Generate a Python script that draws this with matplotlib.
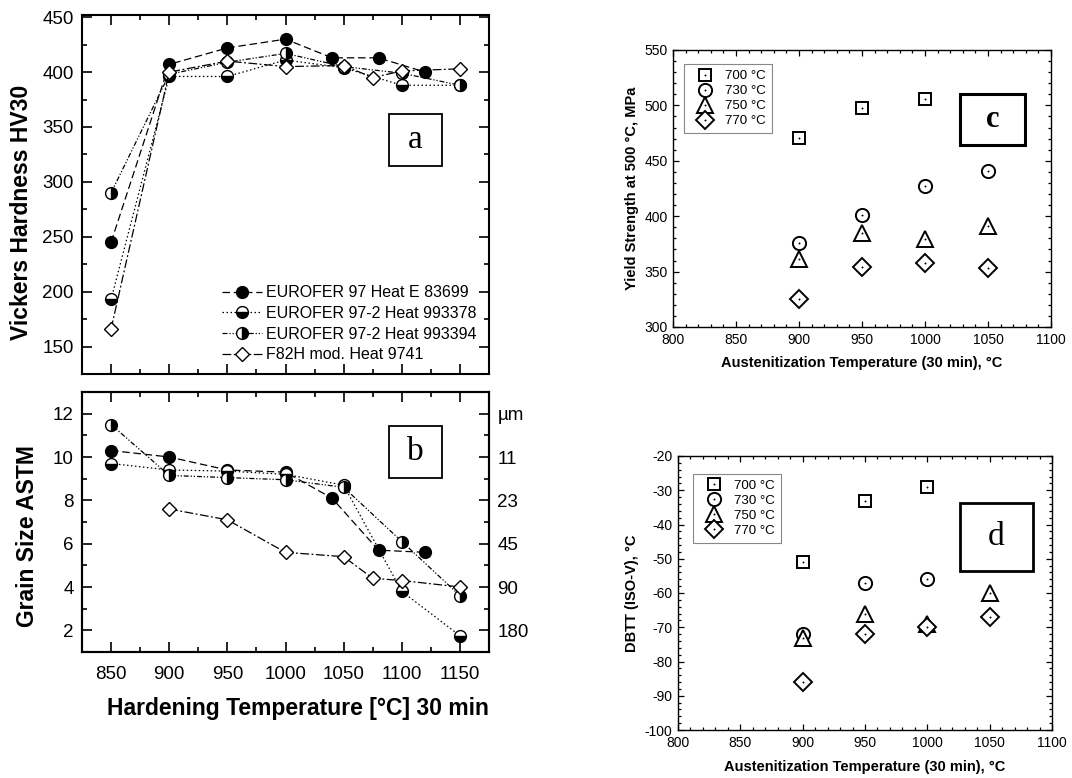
import matplotlib
matplotlib.use("Agg")
import matplotlib.pyplot as plt
from matplotlib.ticker import MultipleLocator
from matplotlib.patches import Rectangle

plt.rcParams['font.family'] = ['Liberation Sans', 'DejaVu Sans']
plt.rcParams['axes.unicode_minus'] = False

# ---------------- data: panel a (hardness) ----------------
a_x_97 = [850, 900, 950, 1000, 1040, 1080, 1120]
a_y_97 = [245, 407, 422, 430, 413, 413, 400]
a_x_378 = [850, 900, 950, 1000, 1050, 1100, 1150]
a_y_378 = [193, 396, 396, 411, 404, 388, 388]
a_x_394 = [850, 900, 950, 1000, 1050, 1100, 1150]
a_y_394 = [290, 398, 409, 417, 405, 399, 388]
a_x_f82 = [850, 900, 950, 1000, 1050, 1075, 1100, 1150]
a_y_f82 = [166, 400, 410, 405, 406, 395, 401, 403]

# ---------------- data: panel b (grain size) ----------------
b_x_97 = [850, 900, 950, 1000, 1040, 1080, 1120]
b_y_97 = [10.3, 10.0, 9.4, 9.3, 8.1, 5.7, 5.6]
b_x_378 = [850, 900, 950, 1000, 1050, 1100, 1150]
b_y_378 = [9.7, 9.4, 9.35, 9.2, 8.7, 3.8, 1.75]
b_x_394 = [850, 900, 950, 1000, 1050, 1100, 1150]
b_y_394 = [11.5, 9.15, 9.05, 8.95, 8.6, 6.1, 3.6]
b_x_f82 = [900, 950, 1000, 1050, 1075, 1100, 1150]
b_y_f82 = [7.6, 7.1, 5.6, 5.4, 4.4, 4.3, 4.0]
b_right_ticks = [2, 4, 6, 8, 10, 12]
b_right_labels = ['180', '90', '45', '23', '11', 'µm']

series_labels = ['EUROFER 97 Heat E 83699', 'EUROFER 97-2 Heat 993378',
                 'EUROFER 97-2 Heat 993394', 'F82H mod. Heat 9741']

# ---------------- data: panels c, d ----------------
cd_temps = ['700 °C', '730 °C', '750 °C', '770 °C']
c_x = {'700 °C': [900, 950, 1000],
       '730 °C': [900, 950, 1000, 1050],
       '750 °C': [900, 950, 1000, 1050],
       '770 °C': [900, 950, 1000, 1050]}
c_y = {'700 °C': [471, 498, 506],
       '730 °C': [376, 401, 427, 441],
       '750 °C': [361, 385, 379, 391],
       '770 °C': [325, 354, 358, 353]}
d_x = {'700 °C': [900, 950, 1000],
       '730 °C': [900, 950, 1000],
       '750 °C': [900, 950, 1000, 1050],
       '770 °C': [900, 950, 1000, 1050]}
d_y = {'700 °C': [-51, -33, -29],
       '730 °C': [-72, -57, -56],
       '750 °C': [-73, -66, -69, -60],
       '770 °C': [-86, -72, -70, -67]}

W, H = 1072, 778
fig = plt.figure(figsize=(W / 100, H / 100), dpi=100)


def px_axes(x0, y0, x1, y1):
    return fig.add_axes([x0 / W, 1 - y1 / H, (x1 - x0) / W, (y1 - y0) / H])


ax_a = px_axes(82, 15, 489, 374)
ax_b = px_axes(82, 392, 489, 652)
ax_c = px_axes(673, 50, 1051, 327)
ax_d = px_axes(678, 456, 1052, 730)

# ---------- styles for left panels ----------
styles = [
    dict(marker='o', ls=(0, (6, 3)), mfc='black', mec='black', fillstyle='full'),
    dict(marker='o', ls=(0, (1.2, 2)), mfc='black', mec='black', fillstyle='bottom', mfcalt='white'),
    dict(marker='o', ls=(0, (4, 1.5, 1, 1.5, 1, 1.5)), mfc='black', mec='black', fillstyle='right', mfcalt='white'),
    dict(marker='D', ls=(0, (7, 2, 1.5, 2)), mfc='white', mec='black', fillstyle='full'),
]


def draw_series(ax, xs, ys, st, label):
    kw = dict(color='black', lw=0.9, linestyle=st['ls'], marker=st['marker'],
              markeredgecolor=st['mec'], markerfacecolor=st['mfc'],
              fillstyle=st['fillstyle'], markeredgewidth=1.0, label=label)
    if st['marker'] == 'D':
        kw['markersize'] = 7.5
    else:
        kw['markersize'] = 8.5
    if 'mfcalt' in st:
        kw['markerfacecoloralt'] = st['mfcalt']
    return ax.plot(xs, ys, **kw)[0]


a_data = [(a_x_97, a_y_97), (a_x_378, a_y_378), (a_x_394, a_y_394), (a_x_f82, a_y_f82)]
b_data = [(b_x_97, b_y_97), (b_x_378, b_y_378), (b_x_394, b_y_394), (b_x_f82, b_y_f82)]

handles = []
for (xs, ys), st, lab in zip(a_data, styles, series_labels):
    handles.append(draw_series(ax_a, xs, ys, st, lab))
for (xs, ys), st, lab in zip(b_data, styles, series_labels):
    draw_series(ax_b, xs, ys, st, lab)

for ax in (ax_a, ax_b):
    ax.set_xlim(825, 1175)
    ax.xaxis.set_major_locator(MultipleLocator(50))
    ax.xaxis.set_minor_locator(MultipleLocator(25))
    ax.tick_params(which='both', direction='in', top=True, right=True, width=1.2,
                   labelsize=13.5, pad=6)
    ax.tick_params(axis='x', which='both', pad=10)
    ax.tick_params(which='major', length=7)
    ax.tick_params(which='minor', length=3.5)
    for s in ax.spines.values():
        s.set_linewidth(1.5)

ax_a.set_ylim(125, 452)
ax_a.yaxis.set_major_locator(MultipleLocator(50))
ax_a.yaxis.set_minor_locator(MultipleLocator(25))
ax_a.tick_params(labelbottom=False)
ax_a.set_ylabel('Vickers Hardness HV30', fontsize=16.5, fontweight='bold')
ax_a.yaxis.set_label_coords(-0.12, 0.45)

ax_b.set_ylim(1, 13)
ax_b.yaxis.set_major_locator(MultipleLocator(2))
ax_b.yaxis.set_minor_locator(MultipleLocator(1))
ax_b.set_ylabel('Grain Size ASTM', fontsize=16.5, fontweight='bold')
ax_b.yaxis.set_label_coords(-0.106, 0.446)
ax_b.set_xlabel('Hardening Temperature [°C] 30 min', fontsize=16.5, fontweight='bold')
ax_b.xaxis.set_label_coords(0.53, -0.172)

ax_b2 = ax_b.twinx()
ax_b2.set_ylim(1, 13)
ax_b2.set_yticks(b_right_ticks)
ax_b2.set_yticklabels(b_right_labels)
ax_b2.yaxis.set_minor_locator(MultipleLocator(1))
ax_b2.tick_params(which='both', direction='in', width=1.2, labelsize=13.5, pad=6)
ax_b2.tick_params(which='major', length=7)
ax_b2.tick_params(which='minor', length=3.5)
for s in ax_b2.spines.values():
    s.set_linewidth(1.5)

leg = ax_a.legend(handles=handles, loc='lower left', bbox_to_anchor=(0.344, 0.033),
                  frameon=False, fontsize=11.5, handlelength=2.5, handletextpad=0.25,
                  labelspacing=0.35, borderpad=0, borderaxespad=0)


def label_box(ax, rect, text, lw, weight='normal', size=22):
    x, y, w, h = rect
    ax.add_patch(Rectangle((x, y), w, h, transform=ax.transAxes, fill=False,
                           edgecolor='black', lw=lw, zorder=5, clip_on=False))
    ax.text(x + w / 2, y + h / 2, text, transform=ax.transAxes, ha='center', va='center',
            fontsize=size, family=['Liberation Serif', 'DejaVu Serif'], fontweight=weight,
            zorder=6)


label_box(ax_a, (0.754, 0.579, 0.131, 0.145), 'a', 1.3, size=24)
label_box(ax_b, (0.754, 0.669, 0.131, 0.2), 'b', 1.3, size=24)

# ---------- panels c, d ----------
cd_markers = {'700 °C': ('s', 8.5), '730 °C': ('o', 9.5), '750 °C': ('^', 12), '770 °C': ('D', 9)}


def draw_cd(ax, xd, yd):
    hs = []
    for t in cd_temps:
        m, ms = cd_markers[t]
        h1, = ax.plot(xd[t], yd[t], ls='none', marker=m, ms=ms, mfc='white', mec='black',
                      mew=1.4)
        h2, = ax.plot(xd[t], yd[t], ls='none', marker='o', ms=1.0, mfc='black', mec='black',
                      mew=0.3)
        hs.append((h1, h2))
    ax.set_xlim(800, 1100)
    ax.xaxis.set_major_locator(MultipleLocator(50))
    ax.xaxis.set_minor_locator(MultipleLocator(10))
    ax.tick_params(which='both', direction='in', top=True, right=True, width=0.9,
                   labelsize=10, pad=4)
    ax.tick_params(which='major', length=4.5)
    ax.tick_params(which='minor', length=2.2)
    for s in ax.spines.values():
        s.set_linewidth(1.0)
    ax.set_xlabel('Austenitization Temperature (30 min), °C', fontsize=10.5,
                  fontweight='bold')
    return hs


def cd_legend(ax, hs, anchor):
    lg = ax.legend(hs, cd_temps, loc='upper left', bbox_to_anchor=anchor,
                   fontsize=9.6, frameon=True, fancybox=False, edgecolor='#888888',
                   framealpha=1, borderaxespad=0, handlelength=2.2, handletextpad=0.4,
                   labelspacing=0.2, borderpad=0.45)
    lg.get_frame().set_linewidth(0.8)
    return lg


hc = draw_cd(ax_c, c_x, c_y)
ax_c.set_ylim(300, 550)
ax_c.yaxis.set_major_locator(MultipleLocator(50))
ax_c.yaxis.set_minor_locator(MultipleLocator(10))
ax_c.set_ylabel('Yield Strength at 500 °C, MPa', fontsize=10.5, fontweight='bold')
ax_c.yaxis.set_label_coords(-0.09, 0.5)
ax_c.xaxis.set_label_coords(0.5, -0.105)
cd_legend(ax_c, hc, (0.029, 0.95))
label_box(ax_c, (0.759, 0.657, 0.172, 0.184), 'c', 2.2, weight='bold', size=22)

hd = draw_cd(ax_d, d_x, d_y)
ax_d.set_ylim(-100, -20)
ax_d.yaxis.set_major_locator(MultipleLocator(10))
ax_d.yaxis.set_minor_locator(MultipleLocator(2))
ax_d.set_ylabel('DBTT (ISO-V), °C', fontsize=10.5, fontweight='bold')
ax_d.yaxis.set_label_coords(-0.105, 0.5)
ax_d.xaxis.set_label_coords(0.5, -0.11)
cd_legend(ax_d, hd, (0.04, 0.935))
label_box(ax_d, (0.754, 0.58, 0.195, 0.248), 'd', 2.0, size=24)

fig.savefig('out.png', dpi=100)
